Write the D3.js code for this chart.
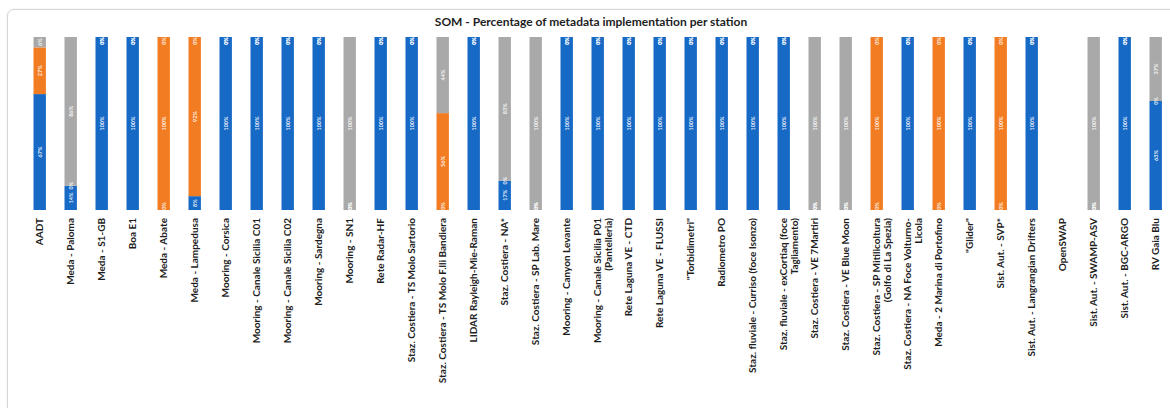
<!DOCTYPE html>
<html>
<head>
<meta charset="utf-8">
<script src="https://cdn.jsdelivr.net/npm/d3@7"></script>
<style>
  html, body { margin: 0; padding: 0; background: #fff; }
  body { width: 1170px; height: 408px; overflow: hidden; position: relative; font-family: Lato, "Open Sans", sans-serif; }
  #card { position: absolute; left: 7px; top: 9px; width: 1220px; height: 460px; border: 1px solid #d6d6d6; border-radius: 7px; box-shadow: 0 0 3px rgba(0,0,0,0.08); }
  svg { position: absolute; left: 0; top: 0; }
</style>
</head>
<body>
<div id="card"></div>
<svg id="chart" width="1170" height="408"></svg>
<script>
const title = "SOM - Percentage of metadata implementation per station";
const categories = [
  "AADT", "Meda - Paloma", "Meda - S1-GB", "Boa E1", "Meda - Abate", "Meda - Lampedusa",
  "Mooring - Corsica", "Mooring - Canale Sicilia C01", "Mooring - Canale Sicilia C02",
  "Mooring - Sardegna", "Mooring - SN1", "Rete Radar-HF", "Staz. Costiera - TS Molo Sartorio",
  "Staz. Costiera - TS Molo F.lli Bandiera", "LIDAR Rayleigh-Mie-Raman", "Staz. Costiera - NA*",
  "Staz. Costiera - SP Lab. Mare", "Mooring - Canyon Levante",
  "Mooring - Canale Sicilia P01\n(Pantelleria)", "Rete Laguna VE - CTD", "Rete Laguna VE - FLUSSI",
  "\"Torbidimetri\"", "Radiometro PO", "Staz. fluviale - Curriso (foce Isonzo)",
  "Staz. fluviale - exCortiaq (foce\nTagliamento)", "Staz. Costiera - VE 7Martiri",
  "Staz. Costiera - VE Blue Moon", "Staz. Costiera - SP Mitilicoltura\n(Golfo di La Spezia)",
  "Staz. Costiera - NA Foce Volturno-\nLicola", "Meda - 2 Marina di Portofino", "\"Glider\"",
  "Sist. Aut. - SVP*", "Sist. Aut. - Langrangian Drifters", "OpenSWAP", "Sist. Aut. - SWAMP-ASV",
  "Sist. Aut. - BGC-ARGO", "RV Gaia Blu"
];
const seriesNames = ["Implemented", "Partially implemented", "Not implemented"];
const implemented =    [67, 14, 100, 100, 0,   8, 100, 100, 100, 100, 0,   100, 100, 0,  100, 17, 0,   100, 100, 100, 100, 100, 100, 100, 100, 0,   0,   0,   100, 0,   100, 0,   100, null, 0,   100, 63];
const partial =        [27, 0,  0,   0,   100, 92, 0,  0,   0,   0,   0,   0,   0,   56, 0,   0,  0,   0,   0,   0,   0,   0,   0,   0,   0,   0,   0,   100, 0,   100, 0,   100, 0,   null, 0,   0,   0];
const notImplemented = [6,  86, 0,   0,   0,   0,  0,   0,   0,   0,   100, 0,   0,   44, 0,   83, 100, 0,   0,   0,   0,   0,   0,   0,   0,   100, 100, 0,   0,   0,   0,   0,   0,   null, 100, 0,   37];
const colors = ["#1669c4", "#f27c22", "#a9a9a9"];

const svg = d3.select("#chart");

svg.append("text")
  .attr("x", 591).attr("y", 25.5)
  .attr("text-anchor", "middle")
  .style("font-family", "Lato, sans-serif")
  .style("font-weight", 700)
  .style("font-size", "12px")
  .style("fill", "#1e1e1e")
  .text(title);

const x = d3.scaleBand().domain(categories).range([24.2, 1171.2]).paddingInner(0.6).paddingOuter(0.3);
const y = d3.scaleLinear().domain([0, 100]).range([210, 37]);

const rows = categories.map((c, i) => ({ cat: c, v: [implemented[i], partial[i], notImplemented[i]] }));
const segs = [];
rows.forEach(r => {
  if (r.v.every(v => v === null)) return;
  let acc = 0;
  r.v.forEach((v, k) => {
    segs.push({ cat: r.cat, k, y0: acc, y1: acc + v, v });
    acc += v;
  });
});

svg.append("g").selectAll("rect")
  .data(segs.filter(s => s.v > 0))
  .join("rect")
  .attr("x", d => x(d.cat))
  .attr("width", x.bandwidth())
  .attr("y", d => y(d.y1))
  .attr("height", d => y(d.y0) - y(d.y1))
  .attr("fill", d => colors[d.k]);

// value labels
svg.append("g").selectAll("text")
  .data(segs)
  .join("text")
  .attr("transform", d => {
    const cx = x(d.cat) + x.bandwidth() / 2;
    let cy = (y(d.y0) + y(d.y1)) / 2;
    cy = Math.max(41, Math.min(206, cy));
    return `translate(${cx},${cy}) rotate(-90)`;
  })
  .attr("text-anchor", "middle")
  .attr("dy", "0.35em")
  .style("font-family", "Lato, sans-serif")
  .style("font-weight", 700)
  .style("font-size", "5.5px")
  .style("fill", "#fff")
  .style("fill-opacity", 0.9)
  .text(d => d.v + "%");

// x axis labels
const xAxis = d3.axisBottom(x).tickSize(0).tickPadding(0).tickFormat("");
const ax = svg.append("g").attr("transform", "translate(0,210)").call(xAxis);
ax.select(".domain").remove();
ax.selectAll(".tick").each(function(d) {
  const lines = d.split("\n");
  const t = d3.select(this).append("text")
    .attr("transform", "rotate(-90)")
    .attr("text-anchor", "end")
    .style("font-family", "Lato, sans-serif")
    .style("font-weight", 700)
    .style("font-size", "10px")
    .style("fill", "#1e1e1e");
  lines.forEach((ln, i) => {
    t.append("tspan")
      .attr("x", -8)
      .attr("y", 3.5 + i * 11)
      .text(ln);
  });
});
</script>
</body>
</html>
